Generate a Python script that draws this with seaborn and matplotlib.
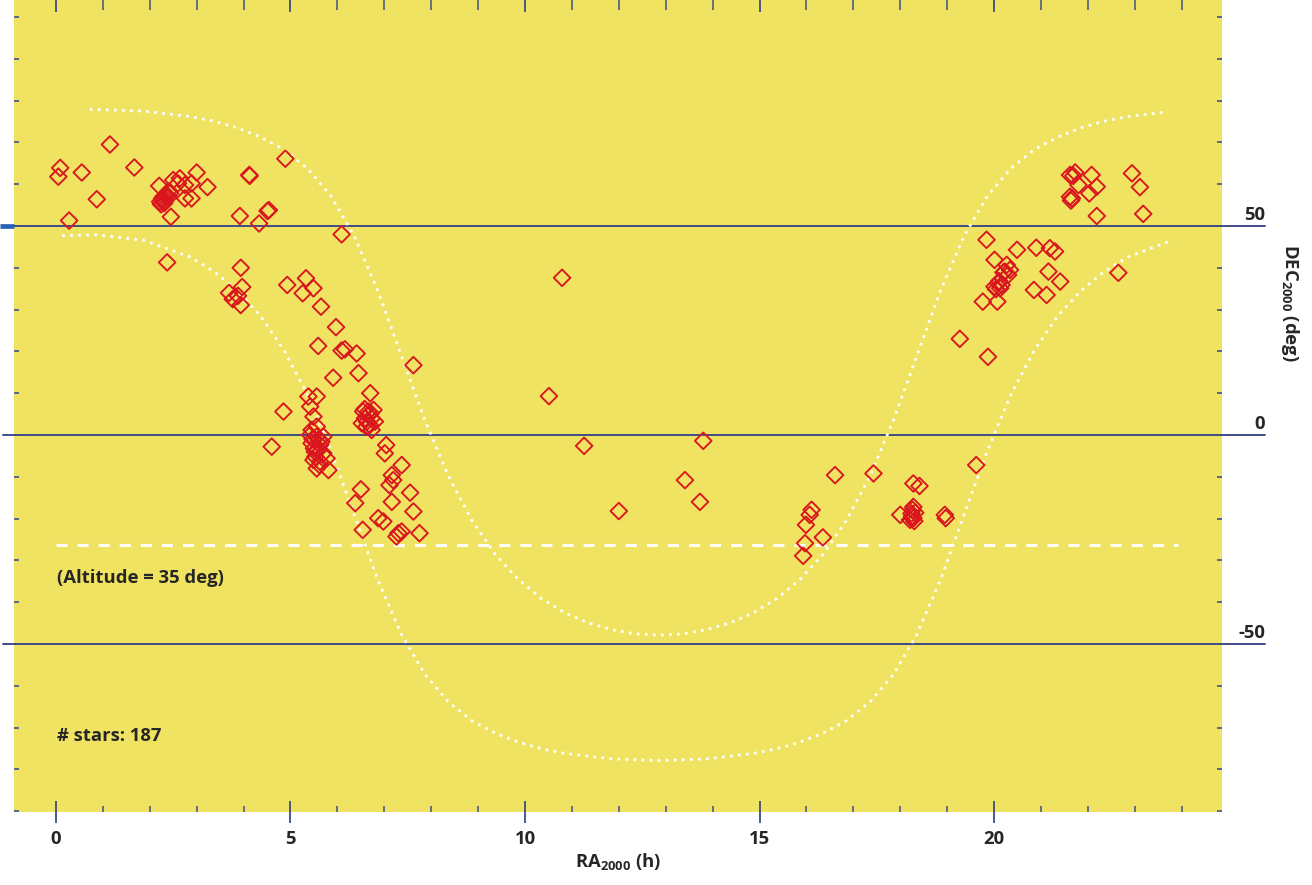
import matplotlib
matplotlib.use("Agg")
import matplotlib.pyplot as plt
from matplotlib.ticker import MultipleLocator
import seaborn as sns
import pandas as pd

# ---------------- data ----------------
ra_stars = [
    0.05, 0.09, 0.28, 0.55, 0.87, 1.15, 1.67,
    2.20, 2.22, 2.29, 2.36, 2.43, 2.26, 2.32, 2.39, 2.50, 2.64, 2.60, 2.75, 2.89, 2.89, 2.75, 3.00, 3.23, 2.45, 2.37,
    3.92, 4.12, 4.13, 4.33, 4.54, 4.51, 4.89, 6.09,
    3.69, 3.77, 3.88, 3.94, 3.97, 3.94,
    4.93, 5.33, 5.26, 5.49, 5.65, 5.97, 5.59, 6.09, 6.16, 6.41, 5.91, 6.45, 7.62,
    6.70, 5.38, 5.56, 5.42, 4.85, 5.49, 5.56,
    5.42, 5.56, 5.70, 5.45, 5.63, 5.52, 5.70, 5.49, 5.63, 5.77, 5.56, 5.81, 5.60, 5.50,
    6.55, 6.66, 6.77, 6.59, 6.73, 6.52, 6.80, 6.62, 6.73, 6.66,
    4.60, 7.04, 7.01, 7.37, 7.16, 7.19, 7.11, 7.55, 6.50, 7.16, 6.38, 7.62, 6.87, 6.98, 6.54, 7.30, 7.37, 7.26, 7.75,
    10.51, 10.79, 11.26, 12.00, 13.41, 13.73, 13.80,
    16.61, 17.43, 16.11, 16.07, 15.99, 15.97, 16.35, 15.93, 18.28, 18.41, 18.00, 18.28, 18.25, 18.21, 18.28, 18.32,
    18.95, 18.97, 19.62, 19.27, 19.87,
    21.62, 21.73, 22.08, 21.80, 22.19, 22.03, 21.62, 21.66, 22.94, 23.11, 23.18, 22.19,
    19.84, 20.49, 20.90, 21.19, 21.30, 20.01, 20.27, 20.23, 20.34, 20.30, 21.16, 21.41, 20.09, 20.01, 20.13, 20.16,
    20.85, 21.12, 19.76, 20.07, 22.65,
    2.27, 2.34, 2.31, 2.40, 2.24, 5.47, 5.58, 5.53, 5.62, 5.45, 5.66, 6.63, 6.69, 6.58, 6.71,
    18.24, 18.30, 18.26, 20.11, 20.04, 20.20, 21.64, 21.69,
]
dec_stars = [
    61.8, 63.9, 51.3, 62.8, 56.4, 69.5, 64.0,
    59.6, 55.8, 57.0, 57.4, 57.8, 56.5, 56.0, 58.2, 61.0, 61.4, 60.2, 56.6, 56.6, 60.2, 59.8, 62.8, 59.3, 52.2, 41.3,
    52.4, 62.2, 62.0, 50.6, 53.8, 53.6, 66.1, 48.0,
    34.0, 32.5, 33.3, 31.1, 35.4, 40.0,
    35.9, 37.5, 33.9, 35.1, 30.7, 25.8, 21.3, 20.2, 20.5, 19.5, 13.7, 14.8, 16.7,
    10.0, 9.2, 9.2, 6.8, 5.6, 4.4, 2.0,
    0.0, -0.4, -0.4, -2.0, -2.4, -4.0, -4.4, -6.0, -6.4, -5.6, -8.0, -8.4, -1.2, -3.2,
    5.6, 5.6, 6.0, 4.0, 4.0, 2.8, 3.2, 2.0, 1.2, 4.8,
    -2.8, -2.4, -4.4, -7.2, -9.6, -10.8, -12.0, -13.8, -13.0, -16.0, -16.3, -18.3, -19.9, -20.7, -22.7, -23.5, -23.1, -24.3, -23.5,
    9.3, 37.6, -2.6, -18.2, -10.8, -16.0, -1.4,
    -9.6, -9.2, -17.9, -19.1, -21.5, -25.9, -24.5, -28.9, -11.6, -12.2, -19.1, -17.2, -19.5, -20.3, -19.9, -18.6,
    -19.1, -19.9, -7.2, 23.0, 18.7,
    62.2, 62.8, 62.2, 59.8, 59.4, 57.8, 57.0, 56.6, 62.6, 59.3, 52.9, 52.4,
    46.7, 44.3, 44.8, 44.7, 43.9, 41.9, 40.7, 39.1, 39.5, 38.3, 39.1, 36.7, 36.3, 35.5, 35.1, 35.9,
    34.7, 33.5, 31.9, 31.9, 38.8,
    56.2, 57.1, 55.5, 56.9, 55.2, -1.0, -3.6, -5.2, -7.2, 1.2, -1.6, 3.2, 2.4, 6.2, 5.2,
    -18.8, -20.6, -17.9, 36.8, 34.9, 38.9, 56.1, 62.0,
]

# galactic latitude +15 / -15 boundaries (dotted)
ra_upper = [0.72, 1.86, 2.86, 3.36, 3.86, 4.36, 4.86, 5.36, 5.86, 6.36, 6.86, 7.36, 7.86, 8.36, 8.86,
            9.36, 9.86, 10.36, 10.86, 11.36, 11.86, 12.36, 12.86, 13.36, 13.86, 14.36, 14.86, 15.36,
            15.86, 16.36, 16.86, 17.36, 17.86, 18.36, 18.86, 19.36, 19.86, 20.36, 20.86, 21.36, 21.86,
            22.36, 22.86, 23.69]
dec_upper = [77.9, 77.5, 76.2, 75.1, 73.5, 71.3, 68.3, 63.8, 57.2, 47.6, 34.6, 19.1, 3.7, -9.7, -20.3,
             -28.5, -34.6, -39.2, -42.6, -45.0, -46.6, -47.6, -47.9, -47.6, -46.6, -45.0, -42.6, -39.2,
             -34.6, -28.5, -20.3, -9.7, 3.7, 19.1, 34.6, 47.6, 57.2, 63.8, 68.3, 71.3, 73.5,
             75.1, 76.2, 77.3]
ra_lower = [0.13, 0.86, 1.86, 2.86, 3.36, 3.86, 4.36, 4.86, 5.36, 5.86, 6.36, 6.86, 7.36, 7.86, 8.36,
            8.86, 9.36, 9.86, 10.36, 10.86, 11.86, 12.86, 13.86, 14.86, 15.36, 15.86, 16.36, 16.86,
            17.36, 17.86, 18.36, 18.86, 19.36, 19.86, 20.36, 20.86, 21.36, 21.86, 22.36, 22.86, 23.75]
dec_lower = [47.7, 47.9, 46.6, 42.6, 39.2, 34.6, 28.5, 20.3, 9.7, -3.7, -19.1, -34.6, -47.6, -57.2, -63.8,
             -68.3, -71.3, -73.5, -75.1, -76.2, -77.5, -77.9, -77.5, -76.2, -75.1, -73.5, -71.3, -68.3,
             -63.8, -57.2, -47.6, -34.6, -19.1, -3.7, 9.7, 20.3, 28.5, 34.6, 39.2, 42.6, 46.4]

dec_lines = [50, 0, -50]
altitude_limit_dec = -26.24
x_ticks_major = [0, 5, 10, 15, 20]

# ---------------- style ----------------
YELLOW = "#f0e362"
NAVY = "#3e4c86"
TICK = "#4d5c8c"
RED = "#d9161e"
TXT = "#262626"
FS = 13.3
FW = "bold"

sns.set_theme(style="white")
plt.rcParams["font.family"] = ["Open Sans", "DejaVu Sans"]
plt.rcParams["mathtext.fontset"] = "custom"
plt.rcParams["mathtext.rm"] = "Open Sans:bold"
plt.rcParams["mathtext.default"] = "regular"

fig = plt.figure(figsize=(13.12, 8.85), dpi=100)
ax = fig.add_axes([14 / 1312, 73 / 885, 1208 / 1312, 812 / 885])
ax.set_facecolor(YELLOW)
for s in ax.spines.values():
    s.set_visible(False)

ax.set_xlim(-0.895, 24.86)
ax.set_ylim(-90.2, 104.07)

stars = pd.DataFrame({"ra": ra_stars, "dec": dec_stars})
up = pd.DataFrame({"ra": ra_upper, "dec": dec_upper})
lo = pd.DataFrame({"ra": ra_lower, "dec": dec_lower})

# reference lines
for v in dec_lines:
    ax.plot([-1.13, 25.78], [v, v], color=NAVY, lw=1.4, clip_on=False, zorder=1)
    ax.text(25.78, v + 0.4, f"{v}", ha="right", va="bottom", fontsize=FS,
            fontweight=FW, color=TXT, clip_on=False)
ax.plot([-1.2, -0.895], [50, 50], color="#2a62b8", lw=3.4, clip_on=False,
        solid_capstyle="butt", zorder=2)

# dotted galactic boundaries
sns.lineplot(data=up, x="ra", y="dec", sort=False, estimator=None, ax=ax, color="white",
             lw=2.0, linestyle=(0, (1, 1.9)), zorder=2)
sns.lineplot(data=lo, x="ra", y="dec", sort=False, estimator=None, ax=ax, color="white",
             lw=2.0, linestyle=(0, (1, 1.9)), zorder=2)

# altitude limit
ax.plot([0, 23.92], [altitude_limit_dec] * 2, color="white", lw=2.2,
        linestyle=(0, (3.6, 3.3)), zorder=2)

# stars
sns.scatterplot(data=stars, x="ra", y="dec", ax=ax, marker="D", s=72,
                facecolor="none", edgecolor=RED, linewidth=1.35, zorder=3)

# texts
ax.text(0.02, -34.2, "(Altitude = 35 deg)", ha="left", va="center", fontsize=FS,
        fontweight=FW, color=TXT)
ax.text(0.02, -72.0, f"# stars: {len(ra_stars)}", ha="left", va="center", fontsize=FS,
        fontweight=FW, color=TXT)

# axes / ticks
ax.xaxis.set_major_locator(MultipleLocator(5))
ax.xaxis.set_minor_locator(MultipleLocator(1))
ax.set_xticks(x_ticks_major)
ax.set_xticklabels([str(t) for t in x_ticks_major])
ax.tick_params(axis="x", which="major", direction="inout", length=16.5, width=1.3,
               color=NAVY, pad=5, labelsize=FS, labelcolor=TXT, bottom=True)
ax.tick_params(axis="x", which="minor", direction="in", length=4.3, width=1.2,
               color=TICK, bottom=True)
for lab in ax.get_xticklabels():
    lab.set_fontweight(FW)

ax.yaxis.set_major_locator(MultipleLocator(10))
ax.tick_params(axis="y", which="major", direction="in", length=3.8, width=1.3, color=TICK,
               left=True, right=True, labelleft=False, labelright=False)

sec = ax.secondary_xaxis("top")
sec.xaxis.set_major_locator(MultipleLocator(5))
sec.xaxis.set_minor_locator(MultipleLocator(1))
sec.tick_params(axis="x", which="major", direction="in", length=8.5, width=1.3, color=NAVY,
                labeltop=False)
sec.tick_params(axis="x", which="minor", direction="in", length=7.2, width=1.2, color=TICK)
sec.spines["top"].set_visible(False)

ax.set_xlabel(r"RA$_{2000}$ (h)", fontsize=FS, fontweight=FW,
              color=TXT, labelpad=2)
ax.set_ylabel("")
fig.text(1290 / 1312, 1 - 303 / 885, r"DEC$_{2000}$ (deg)", rotation=-90,
         ha="center", va="center", fontsize=FS, fontweight=FW, color=TXT)

fig.savefig("out.png", dpi=100, facecolor="white")
